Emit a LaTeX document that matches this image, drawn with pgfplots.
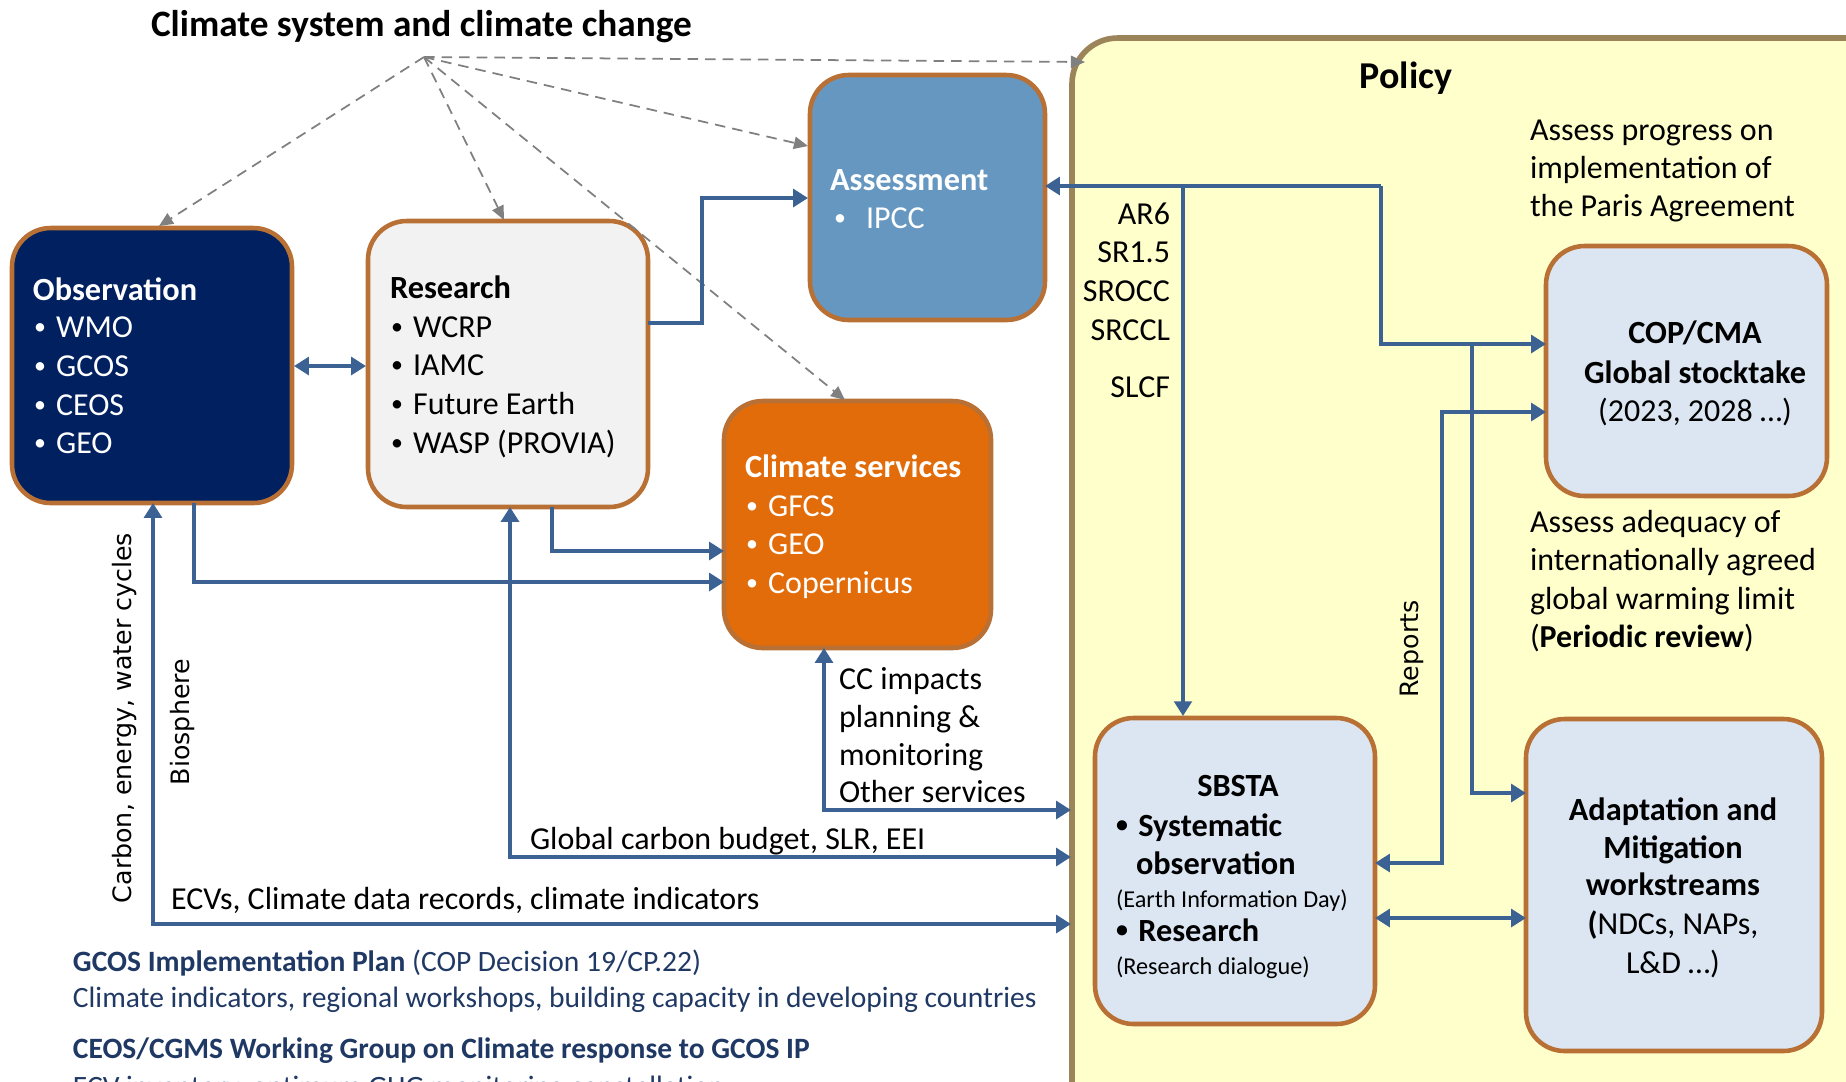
\documentclass[border=0pt]{standalone}
\usepackage{pgfplots}
\pgfplotsset{compat=1.18}
\usepackage{fontspec}
\setmainfont{Carlito}
\newfontfamily\dv{DejaVu Sans}
\usetikzlibrary{arrows.meta}
\definecolor{obsblue}{RGB}{0,32,96}
\definecolor{resgray}{RGB}{242,242,242}
\definecolor{assblue}{RGB}{101,151,193}
\definecolor{csorange}{RGB}{227,108,10}
\definecolor{lightbox}{RGB}{220,230,242}
\definecolor{boxedge}{RGB}{184,112,52}
\definecolor{polfill}{RGB}{255,255,204}
\definecolor{poledge}{RGB}{156,132,90}
\definecolor{arrowblue}{RGB}{60,98,148}
\definecolor{textnavy}{RGB}{31,56,100}
\newcommand\bodyf{\fontsize{9.1}{11}\selectfont}
\newcommand\boldf{\fontsize{9.2}{11}\selectfont\bfseries}
\newcommand\botf{\fontsize{8.4}{10}\selectfont}
\newcommand\smallf{\fontsize{6.9}{8.5}\selectfont}
\newcommand\rotf{\dv\fontsize{7.2}{9}\selectfont}
\newcommand\bul{\raisebox{0.2ex}{\fontsize{6.8}{7}\selectfont•}\hspace{0.32em}}
\tikzset{tx/.style={inner sep=0pt,outer sep=0pt,text height=1.5ex,text depth=0.3ex,font=\bodyf}}
\begin{document}
\begin{tikzpicture}
\useasboundingbox (0,0) rectangle (18.46cm,10.81cm);
\clip (0,0) rectangle (18.46cm,10.81cm);
\begin{axis}[at={(0,0)},anchor=south west,width=18.46cm,height=10.81cm,scale only axis,
 xmin=0,xmax=1846,ymin=0,ymax=1081,y dir=reverse,hide axis,clip=false]
% Policy box
\draw[fill=polfill,draw=poledge,line width=1.6pt,rounded corners=13pt] (axis cs:1072,38) rectangle (axis cs:1900,1140);
% Boxes
\draw[fill=obsblue,draw=boxedge,line width=1.3pt,rounded corners=11pt] (axis cs:12,228) rectangle (axis cs:292,503);
\draw[fill=resgray,draw=boxedge,line width=1.3pt,rounded corners=11pt] (axis cs:368,221) rectangle (axis cs:648,507);
\draw[fill=assblue,draw=boxedge,line width=1.3pt,rounded corners=11pt] (axis cs:810,75) rectangle (axis cs:1045,320);
\draw[fill=csorange,draw=boxedge,line width=1.3pt,rounded corners=11pt] (axis cs:724,401) rectangle (axis cs:991,648);
\draw[fill=lightbox,draw=boxedge,line width=1.3pt,rounded corners=11pt] (axis cs:1546,246) rectangle (axis cs:1827,496);
\draw[fill=lightbox,draw=boxedge,line width=1.3pt,rounded corners=11pt] (axis cs:1095,718) rectangle (axis cs:1375,1024);
\draw[fill=lightbox,draw=boxedge,line width=1.3pt,rounded corners=11pt] (axis cs:1526,719) rectangle (axis cs:1822,1051);
% Dashed arrows
\addplot[gray,line width=0.5pt,dash pattern=on 3pt off 2pt,-{Triangle[length=4pt,width=3.5pt]}] coordinates {(424,57) (159,226)};
\addplot[gray,line width=0.5pt,dash pattern=on 3pt off 2pt,-{Triangle[length=4pt,width=3.5pt]}] coordinates {(424,57) (504,220)};
\addplot[gray,line width=0.5pt,dash pattern=on 3pt off 2pt,-{Triangle[length=4pt,width=3.5pt]}] coordinates {(424,57) (808,146)};
\addplot[gray,line width=0.5pt,dash pattern=on 3pt off 2pt,-{Triangle[length=4pt,width=3.5pt]}] coordinates {(424,57) (845,400)};
\addplot[gray,line width=0.5pt,dash pattern=on 3pt off 2pt,-{Triangle[length=4pt,width=3.5pt]}] coordinates {(424,57) (1085,62)};
% Blue arrows
\pgfplotsset{ba/.style={arrowblue,line width=1.2pt},tip/.style={-{Triangle[length=4.2pt,width=5pt]}},tips/.style={{Triangle[length=4.2pt,width=5pt]}-{Triangle[length=4.2pt,width=5pt]}}}
\addplot[ba,tip] coordinates {(648,323) (702,323) (702,198) (808,198)};
\addplot[ba,tips] coordinates {(294,366) (366,366)};
\addplot[ba,tip] coordinates {(194,503) (194,582) (724,582)};
\addplot[ba,tip] coordinates {(552,507) (552,551) (724,551)};
\addplot[ba,tips] coordinates {(153,503) (153,924) (1071,924)};
\addplot[ba,tips] coordinates {(510,507) (510,857) (1071,857)};
\addplot[ba,tips] coordinates {(824,648) (824,810) (1071,810)};
\addplot[ba,tip] coordinates {(1381,186) (1045,186)};
\addplot[ba,tip] coordinates {(1381,186) (1381,344) (1546,344)};
\addplot[ba,tip] coordinates {(1183,186) (1183,716)};
\addplot[ba,tip] coordinates {(1472,344) (1472,793) (1526,793)};
\addplot[ba,tips] coordinates {(1546,412) (1442,412) (1442,863) (1375,863)};
\addplot[ba,tips] coordinates {(1375,918) (1526,918)};
% Title
\node[tx,anchor=west,font=\fontsize{10.6}{13}\selectfont\bfseries] at (axis cs:151,26) {Climate system and climate change};
\node[tx,font=\fontsize{10.8}{13}\selectfont\bfseries] at (axis cs:1406,78) {Policy};
% Observation
\node[tx,anchor=west,text=white,font=\boldf] at (axis cs:33,290) {Observation};
\node[tx,anchor=west,text=white] at (axis cs:34,327) {\bul WMO};
\node[tx,anchor=west,text=white] at (axis cs:34,366) {\bul GCOS};
\node[tx,anchor=west,text=white] at (axis cs:34,405) {\bul CEOS};
\node[tx,anchor=west,text=white] at (axis cs:34,443) {\bul GEO};
% Research
\node[tx,anchor=west,font=\boldf] at (axis cs:390,288) {Research};
\node[tx,anchor=west] at (axis cs:391,327) {\bul WCRP};
\node[tx,anchor=west] at (axis cs:391,365) {\bul IAMC};
\node[tx,anchor=west] at (axis cs:391,404) {\bul Future Earth};
\node[tx,anchor=west] at (axis cs:391,443) {\bul WASP (PROVIA)};
% Assessment
\node[tx,anchor=west,text=white,font=\boldf] at (axis cs:830,180) {Assessment};
\node[tx,anchor=west,text=white] at (axis cs:834,218) {\bul};
\node[tx,anchor=west,text=white] at (axis cs:866,218) {IPCC};
% Climate services
\node[tx,anchor=west,text=white,font=\boldf] at (axis cs:745,467) {Climate services};
\node[tx,anchor=west,text=white] at (axis cs:746,506) {\bul GFCS};
\node[tx,anchor=west,text=white] at (axis cs:746,544) {\bul GEO};
\node[tx,anchor=west,text=white] at (axis cs:746,583) {\bul Copernicus};
% COP
\node[tx,font=\boldf] at (axis cs:1695,333) {COP/CMA};
\node[tx,font=\boldf] at (axis cs:1695,373) {Global stocktake};
\node[tx] at (axis cs:1695,411) {(2023, 2028 …)};
% SBSTA
\node[tx,font=\boldf] at (axis cs:1238,786) {SBSTA};
\node[tx,anchor=west,font=\boldf] at (axis cs:1116,826) {\bul Systematic};
\node[tx,anchor=west,font=\boldf] at (axis cs:1136,864) {observation};
\node[tx,anchor=west,font=\smallf] at (axis cs:1116,897) {(Earth Information Day)};
\node[tx,anchor=west,font=\boldf] at (axis cs:1116,931) {\bul Research};
\node[tx,anchor=west,font=\smallf] at (axis cs:1116,964) {(Research dialogue)};
% Adaptation
\node[tx,font=\boldf] at (axis cs:1673,810) {Adaptation and};
\node[tx,font=\boldf] at (axis cs:1673,848) {Mitigation};
\node[tx,font=\boldf] at (axis cs:1673,885) {workstreams};
\node[tx] at (axis cs:1673,924) {\textbf{(}NDCs, NAPs,};
\node[tx] at (axis cs:1673,963) {L\&D …)};
% Policy texts
\node[tx,anchor=west] at (axis cs:1530,130) {Assess progress on};
\node[tx,anchor=west] at (axis cs:1530,168) {implementation of};
\node[tx,anchor=west] at (axis cs:1530,206) {the Paris Agreement};
\node[tx,anchor=west] at (axis cs:1530,522) {Assess adequacy of};
\node[tx,anchor=west] at (axis cs:1530,560) {internationally agreed};
\node[tx,anchor=west] at (axis cs:1530,599) {global warming limit};
\node[tx,anchor=west] at (axis cs:1530,637) {(\textbf{Periodic review})};
\node[tx,anchor=east] at (axis cs:1170,214) {AR6};
\node[tx,anchor=east] at (axis cs:1170,252) {SR1.5};
\node[tx,anchor=east] at (axis cs:1170,291) {SROCC};
\node[tx,anchor=east] at (axis cs:1170,330) {SRCCL};
\node[tx,anchor=east] at (axis cs:1170,387) {SLCF};
\node[tx,rotate=90,font=\rotf] at (axis cs:1408,649) {Reports};
\node[tx,rotate=90,font=\rotf] at (axis cs:121,718) {Carbon, energy, water cycles};
\node[tx,rotate=90,font=\rotf] at (axis cs:179,722) {Biosphere};
% Flow labels
\node[tx,anchor=west] at (axis cs:839,679) {CC impacts};
\node[tx,anchor=west] at (axis cs:839,717) {planning \&};
\node[tx,anchor=west] at (axis cs:839,755) {monitoring};
\node[tx,anchor=west] at (axis cs:839,792) {Other services};
\node[tx,anchor=west] at (axis cs:530,839) {Global carbon budget, SLR, EEI};
\node[tx,anchor=west] at (axis cs:171,899) {ECVs, Climate data records, climate indicators};
% Bottom texts
\node[tx,anchor=west,text=textnavy,font=\botf] at (axis cs:73,961) {\textbf{GCOS Implementation Plan} (COP Decision 19/CP.22)};
\node[tx,anchor=west,text=textnavy,font=\botf] at (axis cs:73,997) {Climate indicators, regional workshops, building capacity in developing countries};
\node[tx,anchor=west,text=textnavy,font=\botf\bfseries] at (axis cs:73,1048) {CEOS/CGMS Working Group on Climate response to GCOS IP};
\node[tx,anchor=west,text=textnavy,font=\botf] at (axis cs:73,1086) {ECV inventory, optimum GHG monitoring constellation};
\end{axis}
\end{tikzpicture}
\end{document}
